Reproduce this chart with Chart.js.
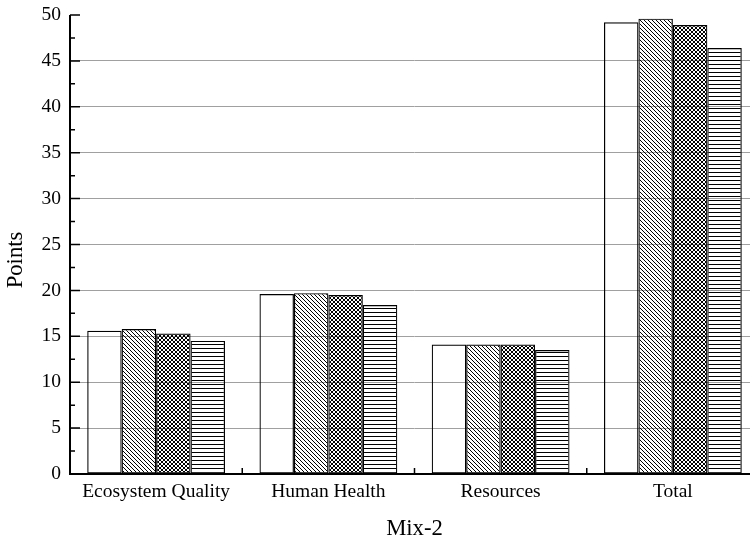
<!DOCTYPE html>
<html>
<head>
<meta charset="utf-8">
<script src="https://cdn.jsdelivr.net/npm/chart.js@4"></script>
<style>
  html, body { margin: 0; padding: 0; background: #fff; overflow: hidden; width: 750px; height: 544px; }
  #wrap { position: relative; width: 760px; height: 544px; }
</style>
</head>
<body>
<div id="wrap"><canvas id="chart"></canvas></div>
<script>
const categories = ['Ecosystem Quality', 'Human Health', 'Resources', 'Total'];
const seriesPlain = [15.6, 19.6, 14.1, 49.2];
const seriesDiagonal = [15.8, 19.7, 14.1, 49.6];
const seriesCross = [15.3, 19.5, 14.1, 48.9];
const seriesHorizontal = [14.5, 18.4, 13.5, 46.4];
const yTicks = [0, 5, 10, 15, 20, 25, 30, 35, 40, 45, 50];

const FONT = "'Liberation Serif', 'Times New Roman', serif";
Chart.defaults.font.family = FONT;
Chart.defaults.color = '#000';

function makePattern(kind) {
    const size = 4;
    const c = document.createElement('canvas');
    c.width = size;
    c.height = size;
    const g = c.getContext('2d');
    g.strokeStyle = '#000';
    g.lineWidth = 1;
    g.beginPath();
    if (kind === 'diag' || kind === 'cross') {
        g.moveTo(-1, -1); g.lineTo(size + 1, size + 1);
        g.moveTo(-1, size - 1); g.lineTo(1, size + 1);
        g.moveTo(size - 1, -1); g.lineTo(size + 1, 1);
    }
    if (kind === 'cross') {
        g.moveTo(-1, size + 1); g.lineTo(size + 1, -1);
        g.moveTo(-1, 1); g.lineTo(1, -1);
        g.moveTo(size - 1, size + 1); g.lineTo(size + 1, size - 1);
    }
    if (kind === 'horiz') {
        g.moveTo(0, 0.5); g.lineTo(size, 0.5);
    }
    g.stroke();
    return document.getElementById('chart').getContext('2d').createPattern(c, 'repeat');
}

const axesPlugin = {
    id: 'axesPlugin',
    afterDraw(chart) {
        const { ctx, chartArea, scales } = chart;
        const y = scales.y, x = scales.x;
        const left = chartArea.left, bottom = chartArea.bottom;
        ctx.save();
        ctx.strokeStyle = '#000';
        ctx.lineWidth = 2;
        ctx.beginPath();
        ctx.moveTo(left, y.getPixelForValue(50));
        ctx.lineTo(left, bottom + 1);
        ctx.moveTo(left - 1, bottom);
        ctx.lineTo(chart.width, bottom);
        ctx.stroke();

        ctx.lineWidth = 1.5;
        ctx.beginPath();
        for (let v = 0; v <= 50; v += 2.5) {
            const py = y.getPixelForValue(v);
            const len = (v % 5 === 0) ? 10 : 5;
            ctx.moveTo(left, py);
            ctx.lineTo(left + len, py);
        }
        const half = (x.getPixelForValue(1) - x.getPixelForValue(0)) / 2;
        for (let i = 0; i < categories.length - 1; i++) {
            const px = x.getPixelForValue(i) + half;
            ctx.moveTo(px, bottom);
            ctx.lineTo(px, bottom - 6);
        }
        ctx.stroke();

        ctx.fillStyle = '#000';
        ctx.textAlign = 'center';
        ctx.textBaseline = 'middle';
        ctx.font = '22.7px ' + FONT;
        ctx.fillText('Mix-2', (left + chartArea.right) / 2, 529);
        ctx.translate(16, 260);
        ctx.rotate(-Math.PI / 2);
        ctx.fillText('Points', 0, 0);
        ctx.restore();
    }
};

const ctx = document.getElementById('chart').getContext('2d');
const barStyle = {
    borderColor: '#000',
    borderWidth: 1.2,
    borderSkipped: false,
    categoryPercentage: 0.8,
    barPercentage: 1.0
};

new Chart(ctx, {
    type: 'bar',
    data: {
        labels: categories,
        datasets: [
            { label: 'Series 1', data: seriesPlain, backgroundColor: 'rgba(255,255,255,0)', ...barStyle },
            { label: 'Series 2', data: seriesDiagonal, backgroundColor: makePattern('diag'), ...barStyle },
            { label: 'Series 3', data: seriesCross, backgroundColor: makePattern('cross'), ...barStyle },
            { label: 'Series 4', data: seriesHorizontal, backgroundColor: makePattern('horiz'), ...barStyle }
        ]
    },
    options: {
        responsive: true,
        maintainAspectRatio: false,
        animation: false,
        layout: { padding: { top: 15, right: 1, left: 0, bottom: 0 } },
        plugins: {
            legend: { display: false },
            tooltip: { enabled: false }
        },
        scales: {
            y: {
                min: 0,
                max: 50,
                afterBuildTicks: (scale) => { scale.ticks = yTicks.map(v => ({ value: v })); },
                afterFit: (scale) => {
                    scale.width = 70;
                    scale.paddingTop = 0;
                    scale.paddingBottom = 0;
                },
                border: { display: false },
                grid: {
                    drawTicks: false,
                    lineWidth: 1,
                    color: (c) => (c.tick && (c.tick.value === 0 || c.tick.value === 50)) ? 'rgba(0,0,0,0)' : '#a0a0a0'
                },
                ticks: {
                    padding: 9,
                    color: '#000',
                    font: { size: 19.5 }
                }
            },
            x: {
                afterFit: (scale) => {
                    scale.height = 70;
                    scale.paddingLeft = 0;
                    scale.paddingRight = 0;
                },
                border: { display: false },
                grid: { display: false, drawTicks: false },
                ticks: {
                    padding: 6,
                    color: '#000',
                    maxRotation: 0,
                    font: { size: 19.5 }
                }
            }
        }
    },
    plugins: [axesPlugin]
});
</script>
</body>
</html>
